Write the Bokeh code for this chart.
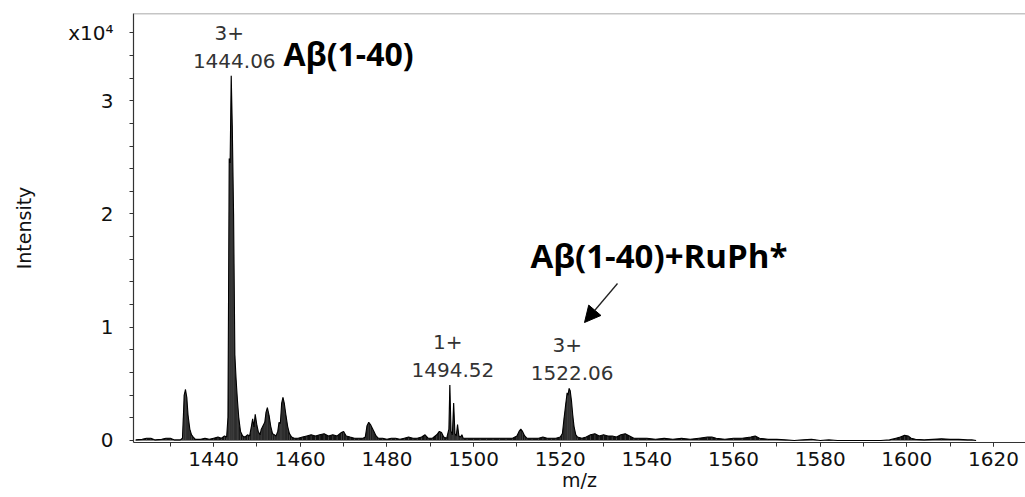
import math
from bokeh.plotting import figure
from bokeh.models import Range1d, SingleIntervalTicker, FixedTicker, Label, Arrow, NormalHead, Span, ColumnDataSource
from bokeh.embed import file_html
from bokeh.resources import INLINE

# ---------------- data (m/z, intensity in units of 1e4) ----------------
mz = [1422.0, 1423.5, 1424.5, 1425.5, 1426.5, 1428.0, 1429.0, 1430.0, 1431.0, 1432.3,
      1432.8, 1433.0, 1433.2, 1433.5, 1433.8, 1434.1, 1434.5, 1434.9, 1435.3, 1435.8,
      1437.0, 1438.0, 1439.0, 1440.0, 1441.0, 1441.8, 1442.5, 1443.0,
      1443.3, 1443.6, 1443.8, 1444.06, 1444.3, 1444.6, 1444.9, 1445.2, 1445.5, 1445.8, 1446.2, 1446.7, 1447.2, 1447.8,
      1448.3, 1448.7, 1449.0, 1449.3, 1449.6, 1450.0, 1450.3, 1450.7, 1451.0, 1451.4, 1451.8, 1452.1, 1452.4, 1452.8,
      1453.2, 1453.6, 1454.0, 1454.4, 1454.8, 1455.1, 1455.4, 1455.7, 1456.0, 1456.3, 1456.7, 1457.1, 1457.5, 1458.0, 1458.6,
      1459.5, 1460.5, 1461.5, 1462.5, 1463.5, 1464.5, 1465.5, 1466.5, 1467.5, 1468.5, 1469.5, 1470.0, 1470.6, 1471.5,
      1472.5, 1473.5, 1474.5,
      1475.0, 1475.4, 1475.8, 1476.2, 1476.6, 1477.0, 1477.5, 1478.0,
      1479.0, 1480.0, 1481.0, 1482.0, 1483.0, 1484.0, 1485.0, 1486.0, 1487.0, 1488.0, 1488.8, 1489.5, 1490.5, 1491.5,
      1492.1, 1492.6, 1493.1,
      1493.8, 1494.3, 1494.52, 1494.8, 1495.1, 1495.4, 1495.7, 1496.0, 1496.3, 1496.6, 1497.0, 1497.3, 1497.6,
      1498.5, 1500.0, 1501.5, 1503.0, 1504.5, 1506.0, 1507.5, 1509.0, 1510.0, 1510.5, 1510.9, 1511.3, 1511.8, 1512.3,
      1513.5, 1515.0, 1516.0, 1517.0, 1518.0, 1519.0, 1520.0,
      1520.5, 1520.9, 1521.3, 1521.6, 1521.8, 1522.06, 1522.3, 1522.6, 1522.9, 1523.2, 1523.6, 1524.0,
      1525.0, 1526.0, 1527.0, 1528.0, 1529.0, 1530.0, 1531.0, 1532.0, 1533.0, 1534.0, 1535.0, 1536.0, 1537.0, 1538.0,
      1540.0, 1542.0, 1544.0, 1546.0, 1548.0, 1550.0, 1552.0, 1554.0, 1555.0, 1556.0, 1558.0, 1560.0, 1562.0, 1564.0,
      1565.0, 1566.0, 1568.0, 1570.0, 1572.0, 1574.0, 1576.0, 1578.0, 1580.0, 1582.0, 1584.0, 1586.0, 1588.0, 1590.0,
      1592.0, 1594.0, 1596.0, 1597.5, 1598.5, 1599.5, 1600.3, 1601.0, 1602.0, 1604.0, 1606.0, 1608.0, 1610.0, 1612.0,
      1614.0, 1615.0, 1616.0]
intensity = [0.005, 0.01, 0.02, 0.02, 0.005, 0.01, 0.02, 0.02, 0.005, 0.005,
             0.02, 0.20, 0.40, 0.45, 0.38, 0.22, 0.10, 0.05, 0.03, 0.01,
             0.01, 0.02, 0.01, 0.02, 0.03, 0.02, 0.04, 0.03,
             0.20, 2.49, 2.45, 3.22, 2.78, 2.00, 0.75, 0.53, 0.35, 0.20, 0.08, 0.04, 0.03, 0.05,
             0.04, 0.12, 0.19, 0.12, 0.23, 0.13, 0.08, 0.05, 0.10, 0.13, 0.16, 0.25, 0.29, 0.22,
             0.12, 0.06, 0.05, 0.04, 0.08, 0.16, 0.15, 0.33, 0.38, 0.33, 0.22, 0.12, 0.06, 0.03, 0.02,
             0.02, 0.03, 0.04, 0.05, 0.04, 0.05, 0.06, 0.04, 0.05, 0.04, 0.07, 0.08, 0.04, 0.03,
             0.02, 0.02, 0.02,
             0.03, 0.13, 0.16, 0.14, 0.11, 0.08, 0.04, 0.02,
             0.02, 0.01, 0.02, 0.02, 0.01, 0.02, 0.03, 0.02, 0.02, 0.03, 0.05, 0.02, 0.02, 0.05,
             0.08, 0.07, 0.03,
             0.02, 0.10, 0.49, 0.08, 0.05, 0.33, 0.06, 0.04, 0.14, 0.04, 0.03, 0.05, 0.02,
             0.02, 0.02, 0.02, 0.02, 0.02, 0.02, 0.02, 0.02, 0.04, 0.08, 0.10, 0.08, 0.04, 0.02,
             0.02, 0.02, 0.03, 0.02, 0.02, 0.02, 0.03,
             0.06, 0.20, 0.33, 0.42, 0.40, 0.46, 0.44, 0.35, 0.22, 0.12, 0.05, 0.03,
             0.02, 0.03, 0.05, 0.06, 0.04, 0.05, 0.04, 0.04, 0.03, 0.05, 0.06, 0.04, 0.02, 0.02,
             0.02, 0.01, 0.02, 0.01, 0.02, 0.01, 0.02, 0.03, 0.03, 0.02, 0.01, 0.02, 0.02, 0.03,
             0.04, 0.02, 0.01, 0.01, 0.005, 0.0, 0.005, 0.01, 0.0, 0.005, 0.0, 0.0, 0.0, 0.0,
             0.0, 0.0, 0.005, 0.02, 0.03, 0.045, 0.04, 0.02, 0.01, 0.005, 0.01, 0.015, 0.01, 0.01,
             0.005, 0.005, 0.0]

peak_mz = [1444.06, 1494.52, 1522.06]
peak_int = [3.22, 0.49, 0.46]
peak_charge = ["3+", "1+", "3+"]
species_labels = ["A\u03b2(1-40)", "A\u03b2(1-40)+RuPh*"]

y_major = [0, 1, 2, 3]
y_scale_tick = 3.6
y_scale_label = "x10\u2074"

# ---------------- layout ----------------
X0, X1 = 1421.5, 1627.4
Y0, Y1 = -0.018, 3.77
W, H = 1025, 497
LEFT, TOP, BOTTOM = 133, 13, 55
FW, FH = W - LEFT, H - TOP - BOTTOM


def dx(px):
    return X0 + (px - LEFT) * (X1 - X0) / FW


def dy(py):
    return Y1 - (py - TOP) * (Y1 - Y0) / FH


PXX = (X1 - X0) / FW
PXY = (Y1 - Y0) / FH

p = figure(width=W, height=H, output_backend="svg", toolbar_location=None,
           x_range=Range1d(X0, X1), y_range=Range1d(Y0, Y1),
           min_border_left=LEFT, min_border_right=0, min_border_top=TOP, min_border_bottom=BOTTOM)
p.grid.visible = False
p.outline_line_color = None
p.background_fill_color = "white"
p.border_fill_color = "white"

src = ColumnDataSource(dict(mz=mz, inten=intensity, zero=[0.0] * len(mz)))
p.varea(x="mz", y1="zero", y2="inten", source=src, fill_color="#111111")
p.segment(x0="mz", y0="zero", x1="mz", y1="inten", source=src, line_color="#6e6e6e", line_width=0.5)
p.line(x="mz", y="inten", source=src, line_color="black", line_width=1.1)

p.add_layout(Span(location=Y1, dimension="width", line_color="#8c8c8c", line_width=1.5))

TICK_FONT = "DejaVu Sans"
for ax in (p.xaxis[0], p.yaxis[0]):
    ax.axis_line_color = "#333333"
    ax.axis_line_width = 1.2
    ax.major_tick_line_color = "#333333"
    ax.minor_tick_line_color = "#333333"
    ax.major_tick_in = 0
    ax.major_tick_out = 4
    ax.minor_tick_in = 0
    ax.minor_tick_out = 4
    ax.major_label_text_font = TICK_FONT
    ax.major_label_text_font_size = "20px"
    ax.major_label_text_color = "#111111"
    ax.axis_label_text_font = TICK_FONT
    ax.axis_label_text_font_style = "normal"
    ax.axis_label_text_color = "#111111"

p.xaxis.ticker = SingleIntervalTicker(interval=20, num_minor_ticks=2)
y_minor = [i / 5 for i in range(1, 18) if i % 5 != 0]
p.yaxis.ticker = FixedTicker(ticks=y_major + [y_scale_tick], minor_ticks=y_minor)
p.yaxis.major_label_overrides = {**{v: str(v) for v in y_major}, y_scale_tick: y_scale_label}
p.xaxis.major_label_standoff = 5
p.yaxis.major_label_standoff = 16

p.xaxis.axis_label = "m/z"
p.xaxis.axis_label_text_font_size = "19px"
p.xaxis.axis_label_standoff = 0
p.yaxis.axis_label = "Intensity"
p.yaxis.axis_label_text_font_size = "19px"
p.yaxis.axis_label_standoff = 30

# peak annotations
for m, v, c in zip(peak_mz, peak_int, peak_charge):
    p.add_layout(Label(x=m + 3 * PXX, y=v + 8 * PXY, text=f"{m:.2f}", text_align="center",
                       text_baseline="bottom", text_font=TICK_FONT, text_font_size="20px",
                       text_color="#333333"))
    p.add_layout(Label(x=m - 2 * PXX, y=v + 36 * PXY, text=c, text_align="center",
                       text_baseline="bottom", text_font=TICK_FONT, text_font_size="20px",
                       text_color="#333333"))

p.add_layout(Label(x=dx(283), y=dy(53), text=species_labels[0], text_align="left", text_baseline="middle",
                   text_font="Open Sans", text_font_style="bold", text_font_size="32px", text_color="black"))
p.add_layout(Label(x=dx(530), y=dy(255), text=species_labels[1], text_align="left", text_baseline="middle",
                   text_font="Open Sans", text_font_style="bold", text_font_size="33px", text_color="black"))

p.add_layout(Arrow(x_start=dx(617), y_start=dy(283), x_end=dx(584), y_end=dy(322),
                   line_color="#222222", line_width=1.3,
                   end=NormalHead(size=16, fill_color="black", line_color="black")))

open("out.html", "w").write(file_html(p, INLINE))
